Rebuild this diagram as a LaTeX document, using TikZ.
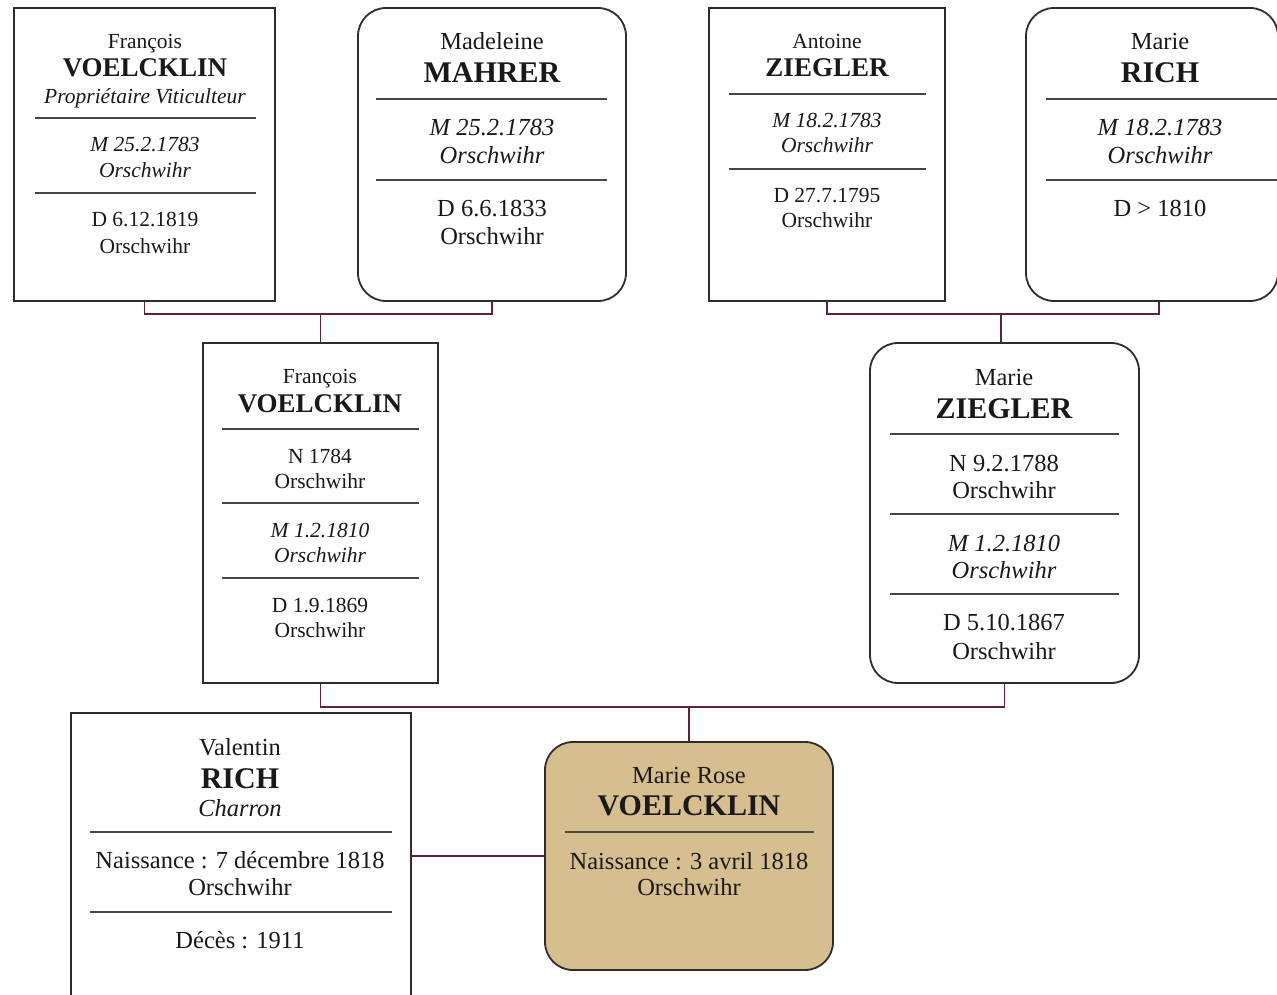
\documentclass[tikz,border=0pt]{standalone}
\usepackage{fontspec}
\setmainfont{Liberation Serif}
\definecolor{boxline}{RGB}{45,45,45}
\definecolor{sepline}{RGB}{70,70,70}
\definecolor{conncol}{RGB}{95,35,50}
\definecolor{tan}{RGB}{214,190,142}
\definecolor{txt}{RGB}{25,25,25}
\tikzset{
  sqbox/.style={draw=boxline, line width=1.8pt, fill=white, inner sep=0pt},
  rdbox/.style={sqbox, rounded corners=28pt},
  sep/.style={draw=sepline, line width=2pt},
  conn/.style={draw=conncol, line width=1.5pt},
  sm/.style={anchor=base, text=txt, font=\fontsize{21.5}{26}\selectfont},
  smb/.style={anchor=base, text=txt, font=\fontsize{27}{30}\selectfont\bfseries},
  smi/.style={anchor=base, text=txt, font=\fontsize{21.5}{26}\selectfont\itshape},
  lg/.style={anchor=base, text=txt, font=\fontsize{24.5}{28}\selectfont},
  lgb/.style={anchor=base, text=txt, font=\fontsize{30}{34}\selectfont\bfseries},
  lgi/.style={anchor=base, text=txt, font=\fontsize{24.5}{28}\selectfont\itshape},
}
\begin{document}
\begin{tikzpicture}[x=1pt,y=-1pt]
\useasboundingbox (0,0) rectangle (1277,995);
\clip (0,0) rectangle (1277,995);
\fill[white] (0,0) rectangle (1277,995);
% boxes
\node[sqbox, minimum width=261pt, minimum height=293pt] (b1) at (144.5,154.5) {};
\node[rdbox, minimum width=268pt, minimum height=293pt] (b2) at (492,154.5) {};
\node[sqbox, minimum width=236pt, minimum height=293pt] (b3) at (827,154.5) {};
\node[rdbox, minimum width=252pt, minimum height=293pt] (b4) at (1152,154.5) {};
\node[sqbox, minimum width=235pt, minimum height=340pt] (b5) at (320.5,513) {};
\node[rdbox, minimum width=269pt, minimum height=340pt] (b6) at (1004.5,513) {};
\node[sqbox, minimum width=340pt, minimum height=300pt] (b7) at (241,863) {};
\node[rdbox, fill=tan, minimum width=288pt, minimum height=228pt] (b8) at (689,856) {};
% connectors
\coordinate (m1) at (320.5,314);
\coordinate (m2) at (1001,314);
\coordinate (m3) at (689,707);
\coordinate (b4c) at (1159,301);
\draw[conn] (b1.south) |- (m1) -| (b2.south);
\draw[conn] (m1) -- (b5.north);
\draw[conn] (b3.south) |- (m2) -| (b4c);
\draw[conn] (m2) -- (b6.north -| m2);
\draw[conn] (b5.south) |- (m3) -| (b6.south);
\draw[conn] (m3) -- (b8.north);
\draw[conn] (b7.east |- b8.west) -- (b8.west);
% box 1
\node[sm] (t1a) at (145,49) {François};
\node[smb] (t1b) at (145,77) {VOELCKLIN};
\node[smi] (t1c) at (145,104) {Propriétaire Viticulteur};
\draw[sep] (35,118) -- (256,118);
\node[smi] (t1d) at (145,152) {M 25.2.1783};
\node[smi] (t1e) at (145,178) {Orschwihr};
\draw[sep] (35,193) -- (256,193);
\node[sm] (t1f) at (145,227) {D 6.12.1819};
\node[sm] (t1g) at (145,253) {Orschwihr};
% box 2
\node[lg] (t2a) at (492,50) {Madeleine};
\node[lgb] (t2b) at (492,83) {MAHRER};
\draw[sep] (376,99) -- (607,99);
\node[lgi] (t2c) at (492,136) {M 25.2.1783};
\node[lgi] (t2d) at (492,164) {Orschwihr};
\draw[sep] (376,180) -- (607,180);
\node[lg] (t2e) at (492,217) {D 6.6.1833};
\node[lg] (t2f) at (492,244) {Orschwihr};
% box 3
\node[sm] (t3a) at (827,49) {Antoine};
\node[smb] (t3b) at (827,77) {ZIEGLER};
\draw[sep] (729,94) -- (926,94);
\node[smi] (t3c) at (827,128) {M 18.2.1783};
\node[smi] (t3d) at (827,153) {Orschwihr};
\draw[sep] (729,169) -- (926,169);
\node[sm] (t3e) at (827,203) {D 27.7.1795};
\node[sm] (t3f) at (827,228) {Orschwihr};
% box 4
\node[lg] (t4a) at (1160,50) {Marie};
\node[lgb] (t4b) at (1160,83) {RICH};
\draw[sep] (1046,99) -- (1277,99);
\node[lgi] (t4c) at (1160,136) {M 18.2.1783};
\node[lgi] (t4d) at (1160,164) {Orschwihr};
\draw[sep] (1046,180) -- (1277,180);
\node[lg] (t4e) at (1160,217) {D > 1810};
% box 5
\node[sm] (t5a) at (320,383) {François};
\node[smb] (t5b) at (320,412) {VOELCKLIN};
\draw[sep] (222,429) -- (419,429);
\node[sm] (t5c) at (320,463) {N 1784};
\node[sm] (t5d) at (320,488) {Orschwihr};
\draw[sep] (222,503) -- (419,503);
\node[smi] (t5e) at (320,537) {M 1.2.1810};
\node[smi] (t5f) at (320,562) {Orschwihr};
\draw[sep] (222,578) -- (419,578);
\node[sm] (t5g) at (320,612) {D 1.9.1869};
\node[sm] (t5h) at (320,637) {Orschwihr};
% box 6
\node[lg] (t6a) at (1004,385) {Marie};
\node[lgb] (t6b) at (1004,418) {ZIEGLER};
\draw[sep] (890,434) -- (1119,434);
\node[lg] (t6c) at (1004,471) {N 9.2.1788};
\node[lg] (t6d) at (1004,498) {Orschwihr};
\draw[sep] (890,514) -- (1119,514);
\node[lgi] (t6e) at (1004,551) {M 1.2.1810};
\node[lgi] (t6f) at (1004,578) {Orschwihr};
\draw[sep] (890,594) -- (1119,594);
\node[lg] (t6g) at (1004,630) {D 5.10.1867};
\node[lg] (t6h) at (1004,659) {Orschwihr};
% box 7
\node[lg] (t7a) at (240,755) {Valentin};
\node[lgb] (t7b) at (240,788) {RICH};
\node[lgi] (t7c) at (240,816) {Charron};
\draw[sep] (90,832) -- (392,832);
\node[lg] (t7d) at (240,868) {Naissance : 7 décembre 1818};
\node[lg] (t7e) at (240,895) {Orschwihr};
\draw[sep] (90,912) -- (392,912);
\node[lg] (t7f) at (240,948) {Décès : 1911};
% box 8
\node[lg] (t8a) at (689,783) {Marie Rose};
\node[lgb] (t8b) at (689,815) {VOELCKLIN};
\draw[sep] (565,832) -- (814,832);
\node[lg] (t8c) at (689,869) {Naissance : 3 avril 1818};
\node[lg] (t8d) at (689,895) {Orschwihr};
\end{tikzpicture}
\end{document}
